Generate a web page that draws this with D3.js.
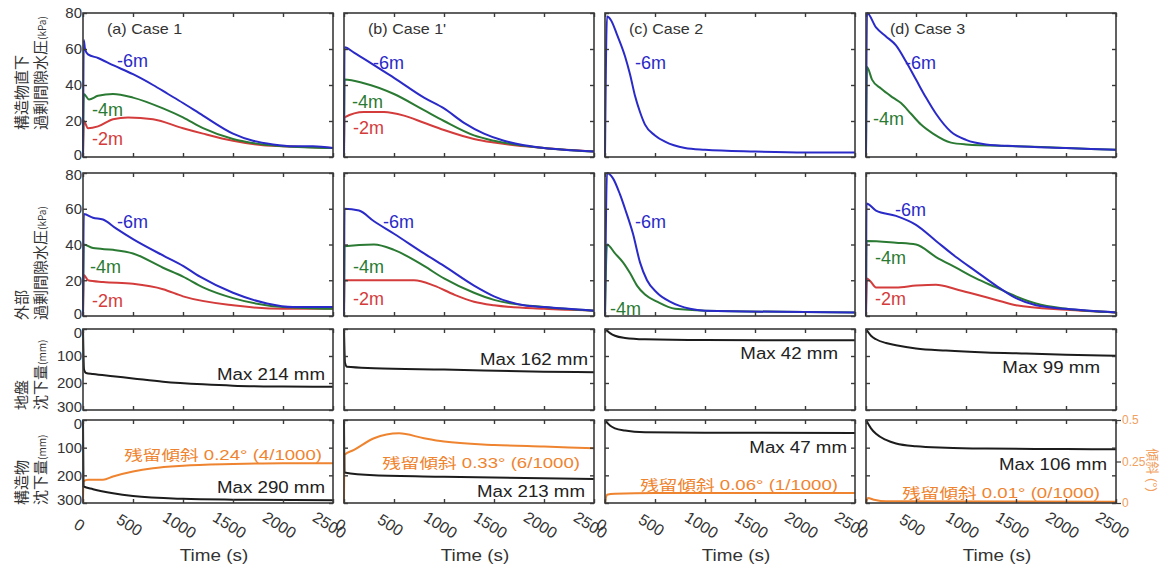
<!DOCTYPE html>
<html>
<head>
<meta charset="utf-8">
<script src="https://cdn.jsdelivr.net/npm/d3@7"></script>
<style>
  body { margin: 0; background: #fff; }
  text { font-family: "Liberation Sans", Arial, "Noto Sans CJK JP", sans-serif; fill: #333; }
  .cjk { font-family: "Noto Sans CJK JP", sans-serif; }
</style>
</head>
<body>
<script>
// --- données (t en s, valeur) ---
const caseTitles = ["(a) Case 1", "(b) Case 1'", "(c) Case 2", "(d) Case 3"];
const timeTicks = [0, 500, 1000, 1500, 2000, 2500];
const kpaTicks = [0, 20, 40, 60, 80];
const mmTicks = [0, 100, 200, 300];
const tiltTicks = [0, 0.25, 0.5];

// surpression interstitielle sous la structure (kPa)
const belowM6 = [
  [[0,0],[8,65],[20,60],[50,57],[150,55],[300,51],[500,46],[700,40],[850,35],[1000,30],[1200,23],[1500,13],[1700,9],[1900,7],[2100,6],[2300,6],[2500,5]],
  [[0,0],[5,61],[100,58],[300,51],[500,44],[800,33],[1000,27],[1200,19],[1400,13],[1600,9],[1800,6.5],[2000,5],[2200,4],[2500,3]],
  [[0,0],[20,78],[60,76],[120,68],[200,56],[250,46],[300,34],[350,25],[400,18],[500,12],[600,8.5],[800,5],[1000,4],[1500,3],[2000,2.5],[2500,2.5]],
  [[0,0],[10,80],[100,72],[200,67],[300,62],[400,53],[500,43],[600,33],[700,24],[850,14],[1000,9.5],[1200,7],[1500,6],[2000,5],[2500,4]]
];
const belowM4 = [
  [[0,0],[8,35],[60,32],[150,34],[300,35],[500,33],[800,27],[1000,22],[1200,16],[1500,10],[1800,7],[2000,6],[2500,5]],
  [[0,0],[5,43],[200,41],[500,35],[800,26],[1000,20],[1300,12],[1500,9],[2000,5],[2500,3]],
  null,
  [[0,0],[10,50],[60,43],[150,38],[270,33],[350,30],[450,24],[550,18],[670,13],[850,8],[1000,7],[1500,6],[2000,5],[2500,4]]
];
const belowM2 = [
  [[0,0],[8,20],[50,16],[150,17],[300,21],[450,22],[700,21],[1000,16],[1200,13],[1500,9],[1800,6.5],[2000,6],[2500,5]],
  [[0,0],[5,22],[200,25],[400,25],[600,23],[800,19],[1000,15],[1300,10],[1500,8],[2000,5],[2500,3]],
  null,
  null
];

// surpression interstitielle à l'extérieur (kPa)
const outsideM6 = [
  [[0,0],[8,57],[100,55],[200,54],[330,49],[500,43],[830,33],[1000,28],[1170,22],[1500,13],[1840,7],[2100,5],[2500,5]],
  [[0,0],[5,60],[150,59],[300,53],[500,46],[800,35],[1000,28],[1300,17],[1500,11],[1800,6],[2000,5],[2500,3]],
  [[0,0],[20,80],[80,77],[150,68],[200,60],[280,46],[350,30],[420,20],[520,13],[650,8],[850,4],[1000,3],[2500,2]],
  [[0,0],[5,63],[100,59],[300,56],[500,51],[700,42],[900,33],[1100,25],[1300,17],[1500,10],[1700,6],[2000,4],[2500,2]]
];
const outsideM4 = [
  [[0,0],[8,40],[100,38],[300,37],[500,35],[800,27],[1000,22],[1200,16],[1500,10],[2000,5],[2500,4]],
  [[0,0],[5,39],[300,40],[500,37],[800,28],[1000,21],[1300,13],[1500,9],[2000,5],[2500,3]],
  [[0,0],[20,40],[100,35],[180,30],[250,24],[320,17],[400,12],[520,8],[700,4],[1000,3],[2500,2]],
  [[0,0],[5,42],[300,41],[500,40],[700,33],[900,27],[1100,21],[1300,16],[1500,11],[1700,7],[2000,4],[2500,2]]
];
const outsideM2 = [
  [[0,0],[8,23],[50,20],[200,19],[500,18],[800,15],[1000,11],[1500,6],[2000,4],[2500,4]],
  [[0,0],[5,20],[300,20],[700,20],[900,17],[1100,12],[1300,8],[1500,6],[2000,4],[2500,3]],
  null,
  [[0,0],[10,21],[50,19],[100,16],[300,16],[500,17],[700,17.5],[900,15],[1100,12],[1300,9],[1500,6],[2000,3.5],[2500,2]]
];

// tassement du sol et de la structure (mm), inclinaison (°)
const groundSettle = [
  [[0,0],[10,150],[30,163],[100,167],[300,175],[500,183],[800,195],[1200,205],[1500,210],[2000,213],[2500,214]],
  [[0,0],[10,125],[30,140],[300,145],[1000,150],[2000,158],[2500,160]],
  [[0,0],[50,15],[100,25],[200,33],[400,38],[1000,41],[2500,42]],
  [[0,0],[50,25],[100,38],[200,52],[300,60],[500,72],[800,80],[1200,87],[1600,91],[2000,95],[2500,99]]
];
const structSettle = [
  [[0,0],[5,240],[100,250],[300,265],[500,275],[1000,285],[1500,288],[2500,290]],
  [[0,0],[5,190],[300,200],[1000,205],[2500,213]],
  [[0,0],[50,20],[100,30],[200,38],[400,44],[1000,46],[2500,47]],
  [[0,0],[50,30],[100,50],[200,72],[300,85],[500,95],[800,100],[1200,103],[2000,105],[2500,106]]
];
const residualTilt = [
  [[0,0],[5,0.13],[50,0.14],[200,0.14],[300,0.16],[500,0.19],[700,0.21],[1000,0.225],[1500,0.235],[2000,0.24],[2500,0.24]],
  [[0,0],[5,0.29],[100,0.32],[300,0.39],[550,0.42],[800,0.39],[1000,0.37],[1500,0.35],[2000,0.34],[2500,0.33]],
  [[0,0],[20,0.05],[100,0.055],[500,0.06],[2500,0.06]],
  [[0,0],[20,0.03],[80,0.02],[200,0.01],[2500,0.008]]
];
const maxGround = [214, 162, 42, 99];
const maxStruct = [290, 213, 47, 106];
const tiltDeg = ["0.24", "0.33", "0.06", "0.01"];
const tiltRatio = ["4/1000", "6/1000", "1/1000", "0/1000"];

// --- mise en page ---
const width = 1165, height = 568;
const colX = [83, 344, 605, 866];
const panelW = 250;
const rowBox = [[13, 157], [173, 316], [329, 410], [420, 503]];

const colM6 = "#2a2ac8", colM4 = "#2b7a33", colM2 = "#d43c3c", colTilt = "#ef8430", colBlack = "#1c1c1c";

// ancres des étiquettes (coordonnées des données)
const tagsBelow = [
  [["-6m", 340, 50, colM6], ["-4m", 90, 23, colM4], ["-2m", 90, 6.5, colM2]],
  [["-6m", 290, 49, colM6], ["-4m", 80, 27, colM4], ["-2m", 90, 13, colM2]],
  [["-6m", 300, 49, colM6]],
  [["-6m", 390, 49, colM6], ["-4m", 70, 18, colM4]]
];
const tagsOutside = [
  [["-6m", 340, 49, colM6], ["-4m", 70, 24, colM4], ["-2m", 90, 5, colM2]],
  [["-6m", 390, 49, colM6], ["-4m", 90, 24, colM4], ["-2m", 90, 6, colM2]],
  [["-6m", 300, 49, colM6], ["-4m", 50, 0.5, colM4]],
  [["-6m", 290, 56, colM6], ["-4m", 90, 29, colM4], ["-2m", 90, 6, colM2]]
];
const maxGroundPos = [[2420, 189], [2440, 133], [2330, 111], [2340, 163]];
const maxStructPos = [[2420, 264], [2410, 278], [2420, 119], [2410, 181]];
const tiltTextPos = [[2390, 145], [2360, 173], [2330, 253], [2340, 282]];

const svg = d3.select("body").append("svg")
    .attr("width", width)
    .attr("height", height);

function stretchText(g, x, y, str, size, sx, anchor, color) {
  return g.append("text")
      .attr("transform", `translate(${x},${y}) scale(${sx},1)`)
      .attr("text-anchor", anchor)
      .style("font-size", size + "px")
      .style("fill", color)
      .text(str);
}

function drawSeries(g, data, x, y, color) {
  if (!data) return;
  const line = d3.line()
      .x(d => x(d[0]))
      .y(d => y(d[1]))
      .curve(d3.curveMonotoneX);
  g.append("path")
      .datum(data)
      .attr("d", line)
      .attr("fill", "none")
      .attr("stroke", color)
      .attr("stroke-width", 2)
      .attr("stroke-linejoin", "round");
}

for (let c = 0; c < 4; c++) {
  const x = d3.scaleLinear().domain([0, 2500]).range([colX[c], colX[c] + panelW]);

  for (let r = 0; r < 4; r++) {
    const [top, bottom] = rowBox[r];
    const isKpa = r < 2;
    const y = isKpa
      ? d3.scaleLinear().domain([0, 80]).range([bottom, top])
      : d3.scaleLinear().domain([0, 300]).range([top, bottom]);
    const g = svg.append("g");

    // courbes
    if (r === 0) {
      drawSeries(g, belowM2[c], x, y, colM2);
      drawSeries(g, belowM4[c], x, y, colM4);
      drawSeries(g, belowM6[c], x, y, colM6);
    } else if (r === 1) {
      drawSeries(g, outsideM2[c], x, y, colM2);
      drawSeries(g, outsideM4[c], x, y, colM4);
      drawSeries(g, outsideM6[c], x, y, colM6);
    } else if (r === 2) {
      drawSeries(g, groundSettle[c], x, y, colBlack);
    } else {
      const yt = d3.scaleLinear().domain([0, 0.5]).range([bottom, top]);
      drawSeries(g, residualTilt[c], x, yt, colTilt);
      drawSeries(g, structSettle[c], x, y, colBlack);
    }

    // cadre
    g.append("rect")
        .attr("x", colX[c]).attr("y", top)
        .attr("width", panelW).attr("height", bottom - top)
        .attr("fill", "none").attr("stroke", "#3a3a3a").attr("stroke-width", 1.6);

    // graduations vers l'intérieur sur les quatre côtés
    const yTicks = isKpa ? kpaTicks : mmTicks;
    const axB = g.append("g").attr("transform", `translate(0,${bottom})`)
        .call(d3.axisBottom(x).tickValues(timeTicks).tickSize(-4).tickFormat(r === 3 ? d3.format("d") : ""));
    g.append("g").attr("transform", `translate(0,${top})`)
        .call(d3.axisTop(x).tickValues(timeTicks).tickSize(-4).tickFormat(""));
    const axL = g.append("g").attr("transform", `translate(${colX[c]},0)`)
        .call(d3.axisLeft(y).tickValues(yTicks).tickSize(-4).tickPadding(1).tickFormat(c === 0 ? d3.format("d") : ""));
    g.append("g").attr("transform", `translate(${colX[c] + panelW},0)`)
        .call(d3.axisRight(y).tickValues(yTicks).tickSize(-4).tickFormat(""));
    g.selectAll(".domain").remove();
    g.selectAll(".tick line").attr("stroke", "#3a3a3a").attr("stroke-width", 1.4);
    // les étiquettes des extrémités sont rentrées un peu pour ne pas se chevaucher
    const first = yTicks[0], last = yTicks[yTicks.length - 1];
    axL.selectAll(".tick text")
        .style("font-size", "15px").style("fill", "#333")
        .attr("y", d => {
          if (isKpa) return d === first ? -2 : (d === last && r === 1 ? 2 : 0);
          return d === first ? 4 : (d === last ? -3 : 0);
        });

    if (r === 3) {
      axB.selectAll("text")
          .attr("y", 0).attr("dy", null)
          .attr("transform", "translate(-4,22) rotate(32)")
          .attr("text-anchor", "middle")
          .attr("dominant-baseline", "central")
          .style("font-size", "16px").style("fill", "#333");
      stretchText(g, colX[c] + panelW / 2 + 6, 561, "Time (s)", 16, 1.18, "middle", "#333");
    }

    // étiquettes
    if (r === 0) {
      stretchText(g, colX[c] + 24, 34, caseTitles[c], 14, 1.15, "start", "#333");
      tagsBelow[c].forEach(t => g.append("text")
          .attr("x", x(t[1])).attr("y", y(t[2]))
          .style("font-size", "18px").style("fill", t[3]).text(t[0]));
    } else if (r === 1) {
      tagsOutside[c].forEach(t => g.append("text")
          .attr("x", x(t[1])).attr("y", y(t[2]))
          .style("font-size", "18px").style("fill", t[3]).text(t[0]));
    } else if (r === 2) {
      stretchText(g, x(maxGroundPos[c][0]), y(maxGroundPos[c][1]),
          `Max  ${maxGround[c]} mm`, 17, 1.1, "end", "#222");
    } else {
      stretchText(g, x(maxStructPos[c][0]), y(maxStructPos[c][1]),
          `Max  ${maxStruct[c]} mm`, 17, 1.1, "end", "#222");
      stretchText(g, x(tiltTextPos[c][0]), y(tiltTextPos[c][1]),
          `残留傾斜 ${tiltDeg[c]}°  (${tiltRatio[c]})`, 14, 1.33, "end", colTilt);
    }

    // axe secondaire de l'inclinaison (dernier panneau)
    if (r === 3 && c === 3) {
      const yt = d3.scaleLinear().domain([0, 0.5]).range([bottom, top]);
      const axR = g.append("g").attr("transform", `translate(${colX[c] + panelW},0)`)
          .call(d3.axisRight(yt).tickValues(tiltTicks).tickSize(5).tickPadding(1)
            .tickFormat(d => d === 0 ? "0" : String(d)));
      axR.select(".domain").remove();
      axR.selectAll("line").attr("stroke", "#3a3a3a").attr("stroke-width", 1.2);
      axR.selectAll("text").style("font-size", "12px").style("fill", "#f2a060");
      g.append("text")
          .attr("transform", `translate(1148,470) rotate(90)`)
          .attr("text-anchor", "middle")
          .style("font-size", "13px").style("fill", "#f2a060")
          .text("傾斜 (°)");
    }
  }
}

// titres des axes verticaux (deux lignes, tournés)
const yTitle1 = ["構造物直下", "外部", "地盤", "構造物"];
const yTitle2 = ["過剰間隙水圧", "過剰間隙水圧", "沈下量", "沈下量"];
const yUnit = ["(kPa)", "(kPa)", "(mm)", "(mm)"];
const yTitleBase = [130, 320, 410, 505];

yTitle1.forEach((t, i) => {
  svg.append("text")
      .attr("class", "cjk")
      .attr("transform", `translate(27,${yTitleBase[i]}) rotate(-90)`)
      .style("font-size", "15px").style("fill", "#333")
      .text(t);
  const t2 = svg.append("text")
      .attr("class", "cjk")
      .attr("transform", `translate(46,${yTitleBase[i]}) rotate(-90)`)
      .style("font-size", "15px").style("fill", "#333");
  t2.append("tspan").text(yTitle2[i]);
  t2.append("tspan").style("font-size", "10px").text(yUnit[i]);
});
</script>
</body>
</html>
